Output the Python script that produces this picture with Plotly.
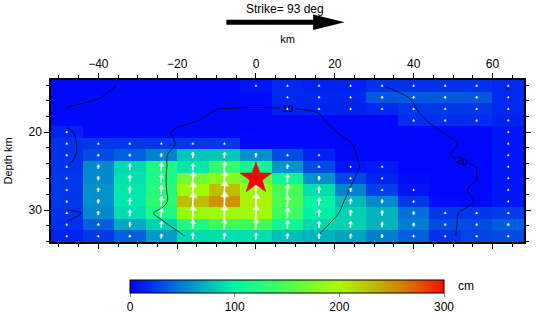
import math
import plotly.graph_objects as go

# ---------------- data ----------------
along_strike_km = [-48, -40, -32, -24, -16, -8, 0, 8, 16, 24, 32, 40, 48, 56, 64]
depth_km = [14.08, 15.56, 17.04, 18.52, 20.00, 21.48, 22.96, 24.44,
            25.92, 27.40, 28.88, 30.36, 31.84, 33.32]

slip_cm = [
    [4, 4, 4, 4, 4, 4, 8, 16, 14, 14, 20, 20, 20, 20, 16],
    [4, 4, 4, 4, 4, 4, 5, 16, 16, 16, 35, 36, 36, 35, 16],
    [4, 4, 4, 4, 4, 4, 4, 14, 14, 14, 16, 22, 22, 22, 16],
    [4, 4, 4, 4, 4, 4, 3, 3, 3, 3, 3, 18, 18, 18, 14],
    [14, 4, 4, 4, 4, 4, 3, 3, 3, 3, 3, 3, 3, 3, 8],
    [20, 22, 22, 22, 22, 22, 4, 4, 4, 3, 3, 3, 3, 3, 8],
    [20, 30, 38, 52, 80, 82, 58, 30, 14, 4, 3, 3, 3, 3, 8],
    [20, 55, 88, 118, 95, 135, 110, 60, 30, 8, 10, 3, 3, 3, 8],
    [22, 55, 92, 120, 170, 180, 165, 110, 58, 28, 14, 5, 3, 3, 8],
    [22, 58, 95, 125, 195, 230, 190, 145, 90, 52, 25, 8, 3, 3, 8],
    [22, 58, 95, 130, 230, 250, 205, 150, 102, 75, 55, 22, 5, 4, 8],
    [20, 55, 90, 120, 190, 195, 195, 140, 98, 85, 72, 45, 22, 22, 24],
    [18, 38, 68, 85, 120, 135, 140, 110, 88, 85, 72, 50, 30, 30, 38],
    [14, 22, 38, 62, 88, 90, 90, 78, 72, 66, 50, 38, 20, 27, 30],
]

rupture_time_s = [
    [23.0, 21.5, 18.9, 17.6, 16.0, 14.4, 12.8, 14.6, 16.4, 18.2, 19.95, 21.7, 23.4, 24.5, 19.4],
    [21.0, 20.2, 18.0, 16.5, 15.0, 13.2, 11.3, 13.1, 14.9, 16.7, 18.5, 20.3, 22.0, 23.5, 21.2],
    [19.8, 18.9, 15.5, 12.5, 10.4, 9.9, 9.8, 9.9, 10.26, 13.4, 16.6, 19.7, 22.9, 24.0, 22.0],
    [19.4, 18.5, 16.0, 13.0, 10.2, 9.13, 8.5, 9.0, 9.58, 11.8, 15.2, 18.6, 22.0, 24.0, 23.0],
    [20.4, 18.5, 13.5, 10.48, 8.95, 7.8, 7.0, 7.6, 8.8, 10.93, 14.1, 17.2, 20.3, 23.0, 22.0],
    [21.0, 17.7, 14.5, 11.7, 7.8, 6.5, 5.5, 6.2, 7.6, 9.9, 12.5, 15.6, 18.75, 21.9, 21.0],
    [21.0, 17.5, 14.0, 10.7, 7.0, 5.2, 4.0, 5.0, 6.8, 9.0, 14.3, 16.9, 19.5, 22.2, 21.0],
    [20.1, 17.5, 14.0, 10.74, 6.5, 4.0, 2.5, 3.7, 6.0, 8.8, 13.2, 15.5, 17.8, 20.1, 21.5],
    [18.5, 17.0, 14.0, 10.65, 6.3, 3.5, 1.0, 3.0, 6.0, 9.6, 12.8, 15.2, 17.6, 19.95, 21.0],
    [17.8, 16.5, 14.0, 10.7, 6.5, 4.2, 2.0, 4.0, 6.5, 10.15, 12.8, 15.5, 18.1, 20.8, 21.0],
    [17.46, 16.5, 14.2, 10.7, 7.0, 5.2, 3.5, 5.2, 7.3, 10.73, 13.1, 15.5, 17.9, 20.2, 21.0],
    [20.8, 19.0, 11.5, 9.5, 8.0, 6.3, 5.0, 6.3, 8.3, 11.02, 13.7, 16.3, 18.9, 21.5, 21.5],
    [19.7, 17.5, 13.0, 10.4, 8.6, 7.3, 6.2, 7.3, 9.2, 11.87, 14.3, 16.7, 19.1, 21.5, 21.5],
    [19.0, 17.5, 14.0, 10.9, 9.7, 8.5, 7.5, 8.6, 10.07, 12.35, 14.6, 16.9, 19.2, 21.6, 21.5],
]

rake_deg = 86
hypo_x_km = 0.0
hypo_depth_km = 25.9
strike_deg = 93
colorbar_ticks = [0, 100, 200, 300]

# ---------------- layout constants ----------------
W, H = 538, 322
ML, MR, MT, MB = 51, 7, 80, 75
PW, PH = W - ML - MR, H - MT - MB
dx = along_strike_km[1] - along_strike_km[0]
dz = depth_km[1] - depth_km[0]
xr = [along_strike_km[0] - dx / 2, along_strike_km[-1] + dx / 2]
yr = [depth_km[-1] + dz / 2, depth_km[0] - dz / 2]
px_per_x = PW / (xr[1] - xr[0])
px_per_y = PH / (yr[0] - yr[1])


def px2paper(px, py):
    return (px - ML) / PW, (MT + PH - py) / PH


colorscale = [
    [0.0, "rgb(0,0,255)"],
    [0.1, "rgb(0,75,228)"],
    [0.2, "rgb(0,150,200)"],
    [0.333, "rgb(0,245,165)"],
    [0.5, "rgb(75,255,80)"],
    [0.667, "rgb(170,250,0)"],
    [0.8, "rgb(195,170,0)"],
    [0.9, "rgb(225,100,0)"],
    [1.0, "rgb(245,15,0)"],
]

cb_x0, cb_y0 = px2paper(131, 286)
cb_x1, _ = px2paper(450, 286)

fig = go.Figure()

fig.add_trace(go.Heatmap(
    x=along_strike_km, y=depth_km, z=slip_cm,
    zmin=0, zmax=300, colorscale=colorscale, zsmooth=False,
    hoverinfo="skip",
    colorbar=dict(
        orientation="h", x=(cb_x0 + cb_x1) / 2, xanchor="center",
        y=cb_y0, yanchor="top", len=cb_x1 - cb_x0, lenmode="fraction",
        thickness=13, outlinewidth=1, outlinecolor="black",
        tickvals=colorbar_ticks, ticks="outside", ticklen=4, tickcolor="#888",
        tickfont=dict(size=12, color="black"),
        xpad=0, ypad=0,
    ),
))

fig.add_trace(go.Contour(
    x=along_strike_km, y=depth_km, z=rupture_time_s,
    contours=dict(start=10, end=20, size=10, coloring="none",
                  showlabels=True, labelfont=dict(size=10, color="black")),
    line=dict(color="black", width=0.7),
    showscale=False, hoverinfo="skip",
))

# slip vectors: shafts (lines) + heads (triangle markers)
scale_px_per_cm = 0.075
r = math.radians(rake_deg)
shaft_x, shaft_y, head_x, head_y, head_s = [], [], [], [], []
sshaft_x, sshaft_y = [], []
for i, d in enumerate(depth_km):
    for j, x in enumerate(along_strike_km):
        s = slip_cm[i][j]
        if s < 6:
            continue
        L = max(s * scale_px_per_cm, 2.0)
        hx = L / 2 * math.cos(r) / px_per_x
        hy = L / 2 * math.sin(r) / px_per_y
        hs = min(2.5 + s * 0.025, 8.0)
        tgt_x, tgt_y = (shaft_x, shaft_y) if s >= 45 else (sshaft_x, sshaft_y)
        tgt_x += [x - hx, x + hx, None]
        tgt_y += [d + hy, d - hy, None]
        # head centred a little behind the tip
        back = hs * 0.35
        head_x.append(x + hx - back * math.cos(r) / px_per_x)
        head_y.append(d - hy + back * math.sin(r) / px_per_y)
        head_s.append(hs)

fig.add_trace(go.Scatter(
    x=shaft_x, y=shaft_y, mode="lines", line=dict(color="white", width=1.6),
    hoverinfo="skip", showlegend=False, connectgaps=False,
))
fig.add_trace(go.Scatter(
    x=sshaft_x, y=sshaft_y, mode="lines", line=dict(color="white", width=1.0),
    hoverinfo="skip", showlegend=False, connectgaps=False,
))
fig.add_trace(go.Scatter(
    x=head_x, y=head_y, mode="markers",
    marker=dict(symbol="triangle-up", size=head_s, color="white",
                angle=90 - rake_deg, line=dict(width=0)),
    hoverinfo="skip", showlegend=False,
))

fig.add_trace(go.Scatter(
    x=[hypo_x_km], y=[hypo_depth_km], mode="markers",
    marker=dict(symbol="star", size=24, color="red",
                line=dict(color="#c00000", width=0.5)),
    hoverinfo="skip", showlegend=False,
))

annotations = [
    dict(text=f"Strike= {strike_deg} deg", x=(288 - ML) / PW, y=(MT + PH - 7) / PH,
         xref="paper", yref="paper", showarrow=False,
         font=dict(size=12, color="black"), xanchor="center", yanchor="middle"),
    dict(text="cm", x=(462 - ML) / PW, y=(MT + PH - 292) / PH,
         xref="paper", yref="paper", showarrow=False,
         font=dict(size=12, color="black"), xanchor="left", yanchor="middle"),
]

x0, y0 = px2paper(229, 20.5)
x1, _ = px2paper(318, 20.5)
tx0, ty0 = px2paper(317, 12.5)
tx1, ty1 = px2paper(349, 20.5)
tx2, ty2 = px2paper(317, 28.5)

shapes = [
    dict(type="line", xref="paper", yref="paper", x0=x0, y0=y0, x1=x1, y1=y0,
         line=dict(color="black", width=5)),
    dict(type="path", xref="paper", yref="paper",
         path=f"M {tx0} {ty0} L {tx1} {ty1} L {tx2} {ty2} Z",
         fillcolor="black", line=dict(color="black", width=0)),
]

fig.update_layout(
    width=W, height=H, margin=dict(l=ML, r=MR, t=MT, b=MB),
    paper_bgcolor="white", plot_bgcolor="white",
    font=dict(family="Liberation Sans, Arial, sans-serif", size=12, color="black"),
    showlegend=False, annotations=annotations, shapes=shapes,
    xaxis=dict(
        range=xr, side="top", tick0=0, dtick=20, ticks="outside", ticklen=5,
        tickwidth=1, tickcolor="black", showline=True, linecolor="black",
        linewidth=1.5, mirror="ticks", showgrid=False, zeroline=False,
        minor=dict(dtick=5, tick0=0, ticks="outside", ticklen=3, tickcolor="black"),
        title=dict(text="km", font=dict(size=11), standoff=12),
        tickfont=dict(size=12),
    ),
    yaxis=dict(
        range=yr, tickvals=[20, 30], ticks="outside", ticklen=5,
        tickwidth=1, tickcolor="black", showline=True, linecolor="black",
        linewidth=1.5, mirror="ticks", showgrid=False, zeroline=False,
        minor=dict(dtick=2, tick0=0, ticks="outside", ticklen=3, tickcolor="black"),
        title=dict(text="Depth km", font=dict(size=11), standoff=14),
        tickfont=dict(size=12),
    ),
)

fig.write_html("out.html")
